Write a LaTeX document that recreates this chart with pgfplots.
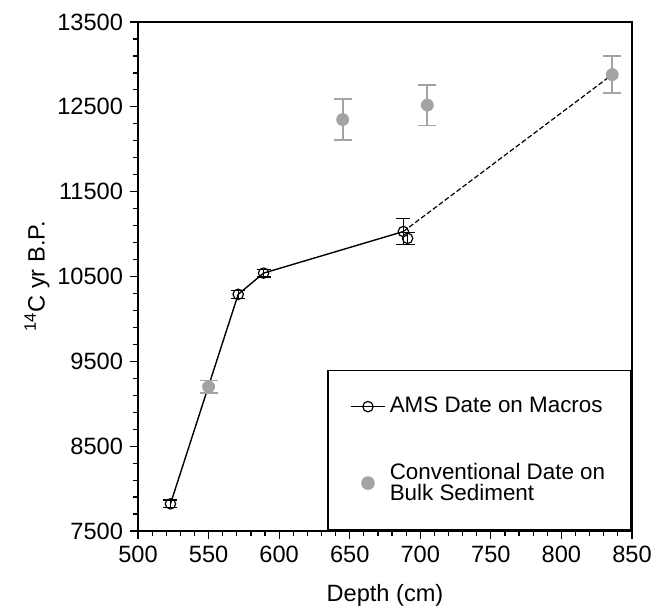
\documentclass[border=0pt]{standalone}
\usepackage{fontspec}
\setmainfont{Liberation Sans}
\usepackage{pgfplots}
\pgfplotsset{compat=1.18}
\definecolor{bulkgray}{HTML}{A3A3A3}

\begin{document}
\begin{tikzpicture}
\begin{axis}[
  scale only axis,
  width=247pt, height=254.5pt,
  xmin=500, xmax=850, ymin=7500, ymax=13500,
  xtick={500,550,...,850},
  ytick={7500,8500,...,13500},
  scaled ticks=false,
  minor x tick num=4,
  minor y tick num=4,
  tick align=outside,
  xtick pos=bottom, ytick pos=left,
  major tick length=4pt, minor tick length=2.5pt,
  every tick/.style={black, line width=0.6pt},
  axis line style={line width=0.9pt},
  /pgf/number format/assume math mode=true,
  /pgf/number format/1000 sep={},
  tick label style={font=\fontsize{11.8}{13}\selectfont},
  xlabel={Depth (cm)},
  ylabel={\textsuperscript{14}C yr B.P.},
  label style={font=\fontsize{11.8}{13}\selectfont},
  xlabel style={yshift=-4pt},
  ylabel style={yshift=-3pt},
  legend cell align=left,
  legend style={at={(1,0)}, anchor=south east, draw=black, line width=0.8pt,
    font=\fontsize{11.2}{10.5}\selectfont, cells={align=left},
    inner xsep=11pt, inner ysep=11.5pt, row sep=19.5pt,
    /tikz/every even column/.append style={column sep=5pt}},
]
% AMS dates on macrofossils, joined by the age model line
\addplot[black, line width=0.7pt, mark=o, mark size=2.6pt,
  mark options={line width=0.6pt},
  error bars/.cd, y dir=both, y explicit,
  error bar style={black, line width=0.6pt},
  error mark options={rotate=90, mark size=3.5pt, black, line width=0.6pt}]
  coordinates {
  (523, 7820) +- (0, 45)
  (571, 10290) +- (0, 45)
  (589, 10540) +- (0, 45)
  (688, 11030) +- (0, 150)
};
\addlegendentry{AMS Date on Macros}
% conventional bulk dates
\addplot[only marks, mark=*, mark size=3pt, color=bulkgray,
  error bars/.cd, y dir=both, y explicit,
  error bar style={bulkgray, line width=0.9pt},
  error mark options={rotate=90, mark size=4.5pt, bulkgray, line width=0.9pt}]
  coordinates {
  (550, 9200) +- (0, 75)
  (645, 12350) +- (0, 240)
  (705, 12520) +- (0, 240)
  (836, 12880) +- (0, 215)
};
\addlegendentry{Conventional Date on\\Bulk Sediment}
% second AMS date at this depth
\addplot[forget plot, only marks, black, mark=o, mark size=2.6pt,
  mark options={line width=0.6pt},
  error bars/.cd, y dir=both, y explicit,
  error bar style={black, line width=0.6pt},
  error mark options={rotate=90, mark size=3.5pt, black, line width=0.6pt}]
  coordinates {
  (691, 10950) +- (0, 70)
};
% extrapolated segment
\addplot[forget plot, black, line width=0.6pt, dash pattern=on 2.5pt off 1.2pt]
  coordinates {(688, 11030) (836, 12880)};
\end{axis}
\pgfresetboundingbox
\path[use as bounding box] (current axis.south west) ++(-69pt,-40.5pt) rectangle ++(331.5pt,306pt);
\end{tikzpicture}
\end{document}
